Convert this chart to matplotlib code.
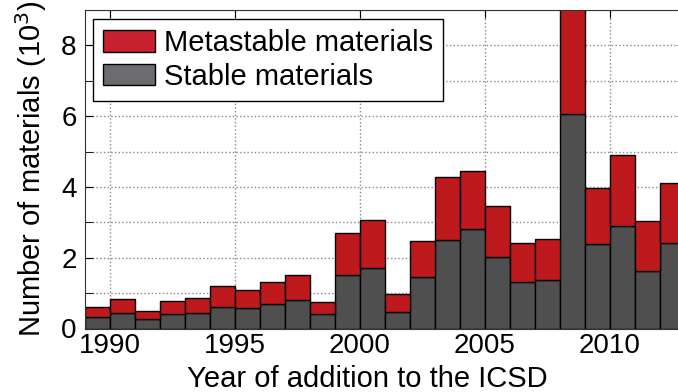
import matplotlib
matplotlib.use('Agg')
import matplotlib.pyplot as plt
from matplotlib.patches import Patch
from matplotlib.ticker import MultipleLocator
import numpy as np

plt.rcParams['font.family'] = ['Liberation Sans', 'DejaVu Sans']

# left edge of each yearly bin, counts in thousands
years = list(range(1989, 2013))
stable = [0.32, 0.43, 0.27, 0.41, 0.43, 0.62, 0.59, 0.70, 0.80, 0.41, 1.50, 1.71,
          0.46, 1.45, 2.49, 2.81, 2.01, 1.31, 1.37, 6.06, 2.39, 2.89, 1.63, 2.43]
metastable = [0.30, 0.41, 0.23, 0.37, 0.43, 0.59, 0.50, 0.62, 0.71, 0.33, 1.20, 1.37,
              0.51, 1.01, 1.80, 1.63, 1.44, 1.10, 1.15, 3.84, 1.57, 2.01, 1.42, 1.67]

red = '#be1a1e'
grey = '#4f4f4f'
fs = 20

fig = plt.figure(figsize=(6.78, 3.92), dpi=100)
ax = fig.add_axes([85 / 678, 63.5 / 392, 600 / 678, 318.5 / 392])

ax.bar(years, stable, width=1, align='edge', color=grey, edgecolor='black', linewidth=1, zorder=2)
ax.bar(years, metastable, width=1, align='edge', bottom=stable, color=red,
       edgecolor='black', linewidth=1, zorder=2)

ax.set_xlim(1989, 2013)
ax.set_ylim(0, 9)
ax.xaxis.set_major_locator(MultipleLocator(5))
ax.yaxis.set_major_locator(MultipleLocator(2))
ax.yaxis.set_minor_locator(MultipleLocator(1))
ax.tick_params(which='both', direction='in', top=True, right=True, labelsize=fs, length=6)
ax.tick_params(axis='x', pad=3)
ax.tick_params(axis='y', pad=6)
ax.grid(True, axis='x', which='major', linestyle=':', color='#888888', linewidth=1, zorder=0)
ax.grid(True, axis='y', which='both', linestyle=':', color='#888888', linewidth=1, zorder=0)
ax.set_axisbelow(True)
for s in ax.spines.values():
    s.set_color('#333333')

ax.set_xlabel('Year of addition to the ICSD', fontsize=21, labelpad=3)
ax.xaxis.set_label_coords(0.47, -0.115, transform=ax.transAxes)
ax.xaxis.label.set_va('top')
ax.set_ylabel('Number of materials (10$^3$)', fontsize=21, labelpad=9)

handles = [Patch(facecolor='#c8202f', edgecolor='black', label='Metastable materials'),
           Patch(facecolor='#6b6b70', edgecolor='black', label='Stable materials')]
leg = ax.legend(handles=handles, loc='upper left', fontsize=21, fancybox=False,
                framealpha=1, edgecolor='black', handlelength=1.78, handleheight=0.75,
                borderpad=0.35, labelspacing=0.2, handletextpad=0.3, borderaxespad=0,
                bbox_to_anchor=(0.013, 0.972))
leg.get_frame().set_linewidth(1)

fig.savefig('out.png', dpi=100)
